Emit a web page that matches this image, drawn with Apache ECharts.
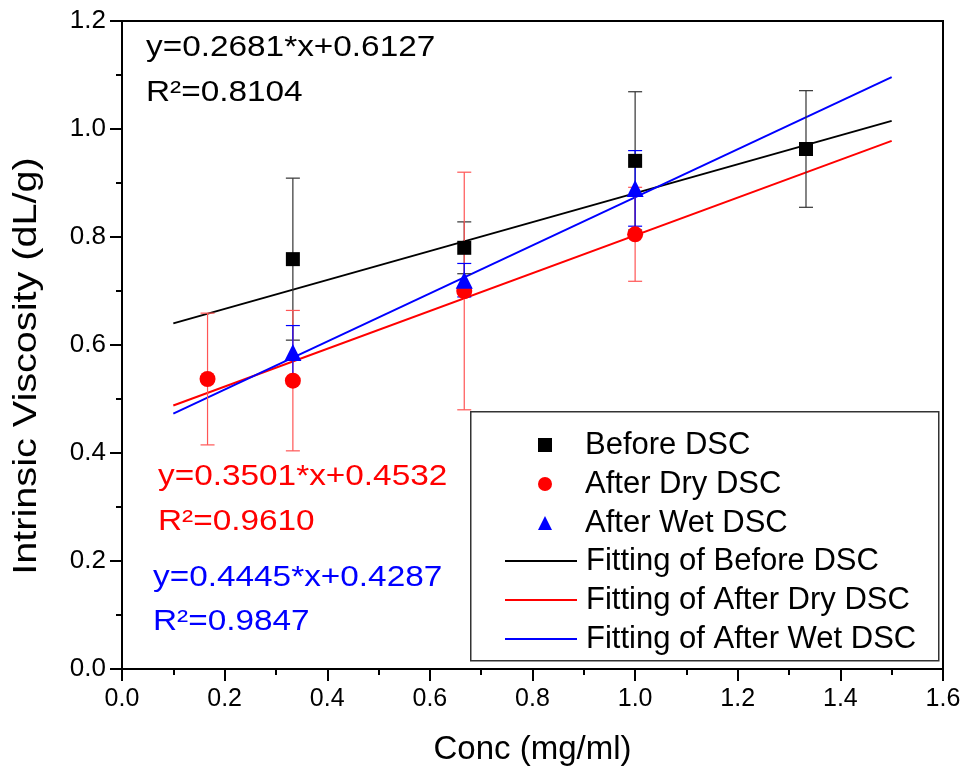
<!DOCTYPE html>
<html>
<head>
<meta charset="utf-8">
<script src="https://cdn.jsdelivr.net/npm/echarts@6/dist/echarts.min.js"></script>
<style>html,body{margin:0;padding:0;background:#fff}#c{width:968px;height:778px}</style>
</head>
<body>
<div id="c"></div>
<script>
// ---- data ----
const beforeX = [0.333, 0.667, 1.0, 1.333];
const beforeY = [0.759, 0.780, 0.941, 0.963];
const beforeErr = [0.150, 0.048, 0.128, 0.108];

const dryX = [0.1667, 0.333, 0.667, 1.0];
const dryY = [0.537, 0.534, 0.700, 0.805];
const dryErr = [0.122, 0.130, 0.220, 0.087];

const wetX = [0.333, 0.667, 1.0];
const wetY = [0.586, 0.720, 0.890];
const wetErr = [0.050, 0.031, 0.070];

// fit line endpoints (x from 0.1 to 1.5)
const fitBeforeX = [0.1, 1.5];
const fitBeforeY = [0.640, 1.015];
const fitDryX = [0.1, 1.5];
const fitDryY = [0.488, 0.978];
const fitWetX = [0.1, 1.5];
const fitWetY = [0.473, 1.096];

const xTicks = ['0.0','0.2','0.4','0.6','0.8','1.0','1.2','1.4','1.6'];
const yTicks = ['0.0','0.2','0.4','0.6','0.8','1.0','1.2'];

const xTitle = 'Conc (mg/ml)';
const yTitle = 'Intrinsic Viscosity (dL/g)';

const eqBefore = ['y=0.2681*x+0.6127', 'R²=0.8104'];
const eqDry = ['y=0.3501*x+0.4532', 'R²=0.9610'];
const eqWet = ['y=0.4445*x+0.4287', 'R²=0.9847'];

const names = ['Before DSC','After Dry DSC','After Wet DSC','Fitting of Before DSC','Fitting of After Dry DSC','Fitting of After Wet DSC'];

// ---- build ----
const pts = (xs, ys) => xs.map((x, i) => [x, ys[i]]);
const errData = (xs, ys, es) => xs.map((x, i) => [x, ys[i] - es[i], ys[i] + es[i]]);

function errSeries(data, color) {
  return {
    type: 'custom',
    silent: true,
    z: 3,
    data: data,
    encode: { x: 0, y: [1, 2] },
    renderItem: function (params, api) {
      const lo = api.coord([api.value(0), api.value(1)]);
      const hi = api.coord([api.value(0), api.value(2)]);
      const hw = 7;
      const st = { stroke: color, lineWidth: 1.2, fill: null };
      return {
        type: 'group',
        children: [
          { type: 'line', shape: { x1: lo[0], y1: lo[1], x2: hi[0], y2: hi[1] }, style: st },
          { type: 'line', shape: { x1: lo[0] - hw, y1: lo[1], x2: lo[0] + hw, y2: lo[1] }, style: st },
          { type: 'line', shape: { x1: hi[0] - hw, y1: hi[1], x2: hi[0] + hw, y2: hi[1] }, style: st }
        ]
      };
    }
  };
}

const FONT = 'Liberation Sans, Arial, sans-serif';
const LINE_ICON = 'path://M0,0 L72,0 L72,2 L0,2 Z';

function textEl(txt, left, cy, color) {
  return {
    type: 'text', x: left, y: cy, z: 10, scaleX: 1.15,
    style: { text: txt, fill: color, font: '29px ' + FONT, verticalAlign: 'middle', align: 'left' }
  };
}

const chart = echarts.init(document.getElementById('c'), null, { renderer: 'canvas' });
chart.setOption({
  animation: false,
  backgroundColor: '#fff',
  grid: { left: 122, right: 25, top: 21, bottom: 109, show: true, borderColor: '#000', borderWidth: 2, backgroundColor: 'transparent' },
  xAxis: {
    type: 'value', min: 0, max: 1.6, interval: 0.2,
    name: xTitle, nameLocation: 'middle', nameGap: 64,
    nameTextStyle: { fontFamily: FONT, fontSize: 33, color: '#000' },
    axisLine: { show: true, onZero: false, lineStyle: { color: '#000', width: 2 } },
    axisTick: { show: true, length: 12, lineStyle: { color: '#000', width: 2 } },
    minorTick: { show: true, splitNumber: 2, length: 6, lineStyle: { color: '#000', width: 2 } },
    splitLine: { show: false },
    axisLabel: { margin: 18, fontFamily: FONT, fontSize: 25, color: '#000', formatter: v => xTicks[Math.round(v / 0.2)] }
  },
  yAxis: {
    type: 'value', min: 0, max: 1.2, interval: 0.2,
    axisLine: { show: true, onZero: false, lineStyle: { color: '#000', width: 2 } },
    axisTick: { show: true, length: 12, lineStyle: { color: '#000', width: 2 } },
    minorTick: { show: true, splitNumber: 2, length: 6, lineStyle: { color: '#000', width: 2 } },
    splitLine: { show: false },
    axisLabel: { margin: 16, fontFamily: FONT, fontSize: 26, color: '#000', formatter: v => yTicks[Math.round(v / 0.2)] }
  },
  legend: [
    {
      data: names.slice(0, 3), orient: 'vertical', left: 538, top: 428, padding: 0,
      itemWidth: 14, itemHeight: 14, itemGap: 5, selectedMode: false,
      textStyle: { fontFamily: FONT, fontSize: 31, color: '#000', lineHeight: 34, padding: [0, 0, 0, 28] }
    },
    {
      data: names.slice(3).map(n => ({ name: n, icon: LINE_ICON })), orient: 'vertical', left: 505, top: 544, padding: 0,
      itemWidth: 72, itemHeight: 14, itemGap: 5, selectedMode: false,
      textStyle: { fontFamily: FONT, fontSize: 31, color: '#000', lineHeight: 34, padding: [0, 0, 0, 4] }
    }
  ],
  graphic: [
    { type: 'rect', left: 470, top: 411, z: 0, shape: { width: 468, height: 249 }, style: { fill: '#fff', stroke: '#333', lineWidth: 1.5 } },
    {
      type: 'text', x: 27, y: 366, rotation: Math.PI / 2, scaleX: 1.2, z: 10,
      style: { text: yTitle, fill: '#000', font: '33px ' + FONT, align: 'center', verticalAlign: 'middle' }
    },
    textEl(eqBefore[0], 146, 48, '#000'),
    textEl(eqBefore[1], 146, 93, '#000'),
    textEl(eqDry[0], 158, 477, '#ff0000'),
    textEl(eqDry[1], 158, 522, '#ff0000'),
    textEl(eqWet[0], 153, 578, '#0000ff'),
    textEl(eqWet[1], 153, 622, '#0000ff')
  ],
  series: [
    { name: names[3], type: 'line', data: pts(fitBeforeX, fitBeforeY), symbol: 'none', lineStyle: { color: '#000', width: 2 }, itemStyle: { color: '#000' }, z: 2 },
    { name: names[4], type: 'line', data: pts(fitDryX, fitDryY), symbol: 'none', lineStyle: { color: '#ff0000', width: 2 }, itemStyle: { color: '#ff0000' }, z: 2 },
    { name: names[5], type: 'line', data: pts(fitWetX, fitWetY), symbol: 'none', lineStyle: { color: '#0000ff', width: 2 }, itemStyle: { color: '#0000ff' }, z: 2 },
    errSeries(errData(beforeX, beforeY, beforeErr), '#333'),
    { name: names[0], type: 'scatter', data: pts(beforeX, beforeY), symbol: 'rect', symbolSize: 14, itemStyle: { color: '#000', opacity: 1 }, z: 4 },
    errSeries(errData(dryX, dryY, dryErr), '#ff5555'),
    { name: names[1], type: 'scatter', data: pts(dryX, dryY), symbol: 'circle', symbolSize: 16, itemStyle: { color: '#ff0000', opacity: 1 }, z: 5 },
    errSeries(errData(wetX, wetY, wetErr), '#0000ff'),
    { name: names[2], type: 'scatter', data: pts(wetX, wetY), symbol: 'triangle', symbolSize: 17, itemStyle: { color: '#0000ff', opacity: 1 }, z: 6 }
  ]
});
</script>
</body>
</html>
